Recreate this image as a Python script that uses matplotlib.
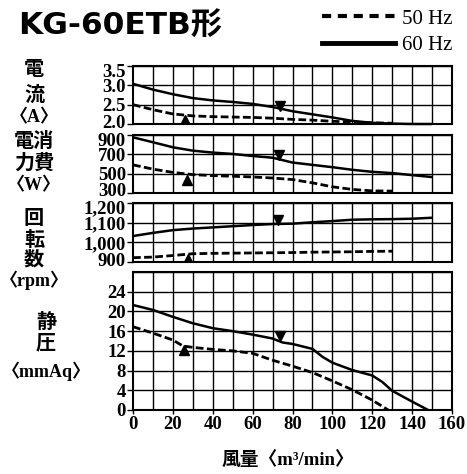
import matplotlib
matplotlib.use("Agg")
import matplotlib.pyplot as plt
from matplotlib.lines import Line2D
from matplotlib.transforms import ScaledTranslation

# ---------------- data ----------------
flow = [0, 10, 20, 30, 40, 50, 60, 70, 80, 90, 100, 110, 120, 130, 140, 150]

cur_60 = [3.04, 2.89, 2.77, 2.67, 2.61, 2.57, 2.52, 2.44, 2.33, 2.25, 2.17, 2.08, 2.03, 2.01, 2.0, 2.0]
cur_50_x = [0, 10, 20, 30, 40, 50, 60, 70, 80, 90, 100, 110, 120, 130]
cur_50 = [2.5, 2.37, 2.26, 2.21, 2.19, 2.18, 2.17, 2.15, 2.12, 2.1, 2.07, 2.05, 2.03, 2.02]

pow_60 = [876, 825, 773, 738, 718, 704, 683, 665, 615, 591, 567, 540, 519, 506, 485, 465]
pow_50_x = [0, 10, 20, 30, 40, 50, 60, 70, 80, 90, 100, 110, 120, 130]
pow_50 = [591, 547, 513, 490, 480, 473, 466, 455, 439, 405, 364, 337, 322, 320]

rpm_60 = [1032, 1048, 1062, 1070, 1076, 1082, 1088, 1093, 1095, 1102, 1108, 1115, 1117, 1118, 1120, 1125]
rpm_50_x = [0, 10, 20, 30, 40, 50, 60, 70, 80, 90, 100, 110, 120, 130]
rpm_50 = [922, 925, 933, 942, 944, 945, 946, 947, 948, 950, 951, 952, 954, 955]

sp_60_x = [0, 10, 20, 30, 40, 50, 60, 70, 75, 80, 90, 95, 100, 110, 120, 125, 130, 140, 148]
sp_60 = [21.3, 20.3, 18.9, 17.6, 16.6, 16.0, 15.3, 14.5, 13.7, 13.4, 12.4, 10.8, 9.6, 8.1, 7.0, 5.7, 3.9, 1.7, 0.0]
sp_50_x = [0, 10, 20, 25, 30, 40, 50, 60, 70, 80, 90, 100, 110, 120, 128]
sp_50 = [16.9, 15.6, 14.2, 13.0, 12.7, 12.3, 12.0, 11.5, 10.1, 8.9, 7.6, 5.9, 4.1, 2.0, 0.0]

# operating-point markers (flow, value)
mk60 = {"cur": (73.5, 2.47), "pow": (73, 690), "rpm": (72.5, 1114), "sp": (73.5, 15.0)}
mk50 = {"cur": (26, 2.1), "pow": (27, 431), "rpm": (27.5, 917), "sp": (25.5, 12.2)}

x_ticks = [0, 20, 40, 60, 80, 100, 120, 140, 160]
cur_ticks = [2.0, 2.5, 3.0, 3.5]
cur_labels = ["2.0", "2.5", "3.0", "3.5"]
pow_ticks = [300, 500, 700, 900]
rpm_ticks = [900, 1000, 1100, 1200]
rpm_labels = ["900", "1,000", "1,100", "1,200"]
sp_ticks = [0, 4, 8, 12, 16, 20, 24]

# ---------------- figure ----------------
W, H = 467, 474
fig = plt.figure(figsize=(W / 100, H / 100), dpi=100)
fig.patch.set_facecolor("white")

TF = dict(family=["Liberation Serif", "DejaVu Serif"], weight="bold", size=13.5)
LF = ["Liberation Serif", "Noto Sans CJK JP", "DejaVu Sans"]

def rect(top, bottom, left=133, right=452):
    return [left / W, 1 - bottom / H, (right - left) / W, (bottom - top) / H]

axes = [
    fig.add_axes(rect(66, 124)),
    fig.add_axes(rect(135, 193)),
    fig.add_axes(rect(203, 262)),
    fig.add_axes(rect(272, 410)),
]
ylims = [(2.0, 3.5), (300, 900), (900, 1200), (0, 28)]
yticks = [cur_ticks, pow_ticks, rpm_ticks, sp_ticks]
ylabs = [cur_labels, [str(v) for v in pow_ticks], rpm_labels, [str(v) for v in sp_ticks]]
hgrid = [cur_ticks, pow_ticks, rpm_ticks, sp_ticks + [28]]

for i, (ax, yl, yt, lab, hg) in enumerate(zip(axes, ylims, yticks, ylabs, hgrid)):
    ax.set_xlim(0, 160)
    ax.set_ylim(*yl)
    for v in range(10, 160, 10):
        ax.axvline(v, color="black", lw=1.0, zorder=1)
    for v in hg:
        ax.axhline(v, color="black", lw=1.0, zorder=1)
    ax.set_yticks(yt)
    tls = ax.set_yticklabels(lab, fontdict=TF)
    ax.tick_params(axis="y", direction="out", length=4, width=1, pad=1, colors="black")
    if i < 3:
        # keep stacked labels of neighbouring panels apart, as in the print
        tls[-1].set_transform(tls[-1].get_transform() + ScaledTranslation(0, -4 / 100, fig.dpi_scale_trans))
        tls[0].set_transform(tls[0].get_transform() + ScaledTranslation(0, 3 / 100, fig.dpi_scale_trans))
    for s in ax.spines.values():
        s.set_linewidth(1.5)
        s.set_color("black")
    ax.set_xticks(x_ticks)
    if i == 3:
        ax.set_xticklabels([str(v) for v in x_ticks], fontdict=TF)
        ax.tick_params(axis="x", direction="out", length=3, width=1, pad=1)
    else:
        ax.set_xticklabels([])
        ax.tick_params(axis="x", length=0)

series = [
    (flow, cur_60, cur_50_x, cur_50, "cur"),
    (flow, pow_60, pow_50_x, pow_50, "pow"),
    (flow, rpm_60, rpm_50_x, rpm_50, "rpm"),
    (sp_60_x, sp_60, sp_50_x, sp_50, "sp"),
]
for ax, (x6, y6, x5, y5, key) in zip(axes, series):
    ax.plot(x6, y6, color="black", lw=1.8, solid_capstyle="butt", zorder=3, clip_on=False)
    ax.plot(x5, y5, color="black", lw=2.0, dashes=(2.8, 1.2), zorder=3, clip_on=False)
    ax.plot(*mk60[key], marker="v", color="black", ms=7, zorder=4)
    ax.plot(*mk50[key], marker="^", color="black", ms=7, zorder=4)

# ---------------- texts ----------------
fig.text(18 / W, 1 - 26 / H, "KG-60ETB形", family=["DejaVu Sans", "Noto Sans CJK JP"],
         weight="bold", size=22.5, ha="left", va="center")

leg_handles = [Line2D([], [], color="black", lw=3, dashes=(2.2, 1.6)),
               Line2D([], [], color="black", lw=3.5)]
fig.legend(leg_handles, ["50 Hz", "60 Hz"], loc="upper right",
           bbox_to_anchor=(452 / W, 1 - 9 / H), frameon=False,
           prop=dict(family="Liberation Serif", size=15), handlelength=3.5,
           handletextpad=0.3, labelspacing=0.35, borderpad=0, borderaxespad=0)

def vlabel(cx, items):
    for cy, s, size in items:
        fig.text(cx / W, 1 - cy / H, s, family=LF, weight="bold", size=size,
                 ha="center", va="center")

vlabel(34, [(70, "電", 14.5), (96, "流", 14.5), (118, "〈A〉", 13)])
vlabel(34, [(142, "電消", 14.5), (164, "力費", 14.5), (186, "〈W〉", 13)])
vlabel(34, [(219, "回", 14.5), (241, "転", 14.5), (260, "数", 14.5), (280, "〈rpm〉", 13)])
vlabel(46, [(323, "静", 14.5), (343, "圧", 14.5), (371, "〈mmAq〉", 13)])

fig.text(288 / W, 1 - 461 / H, "風量〈m³/min〉", family=LF, weight="bold", size=13.5,
         ha="center", va="center")

fig.savefig("out.png", dpi=100, facecolor="white")
